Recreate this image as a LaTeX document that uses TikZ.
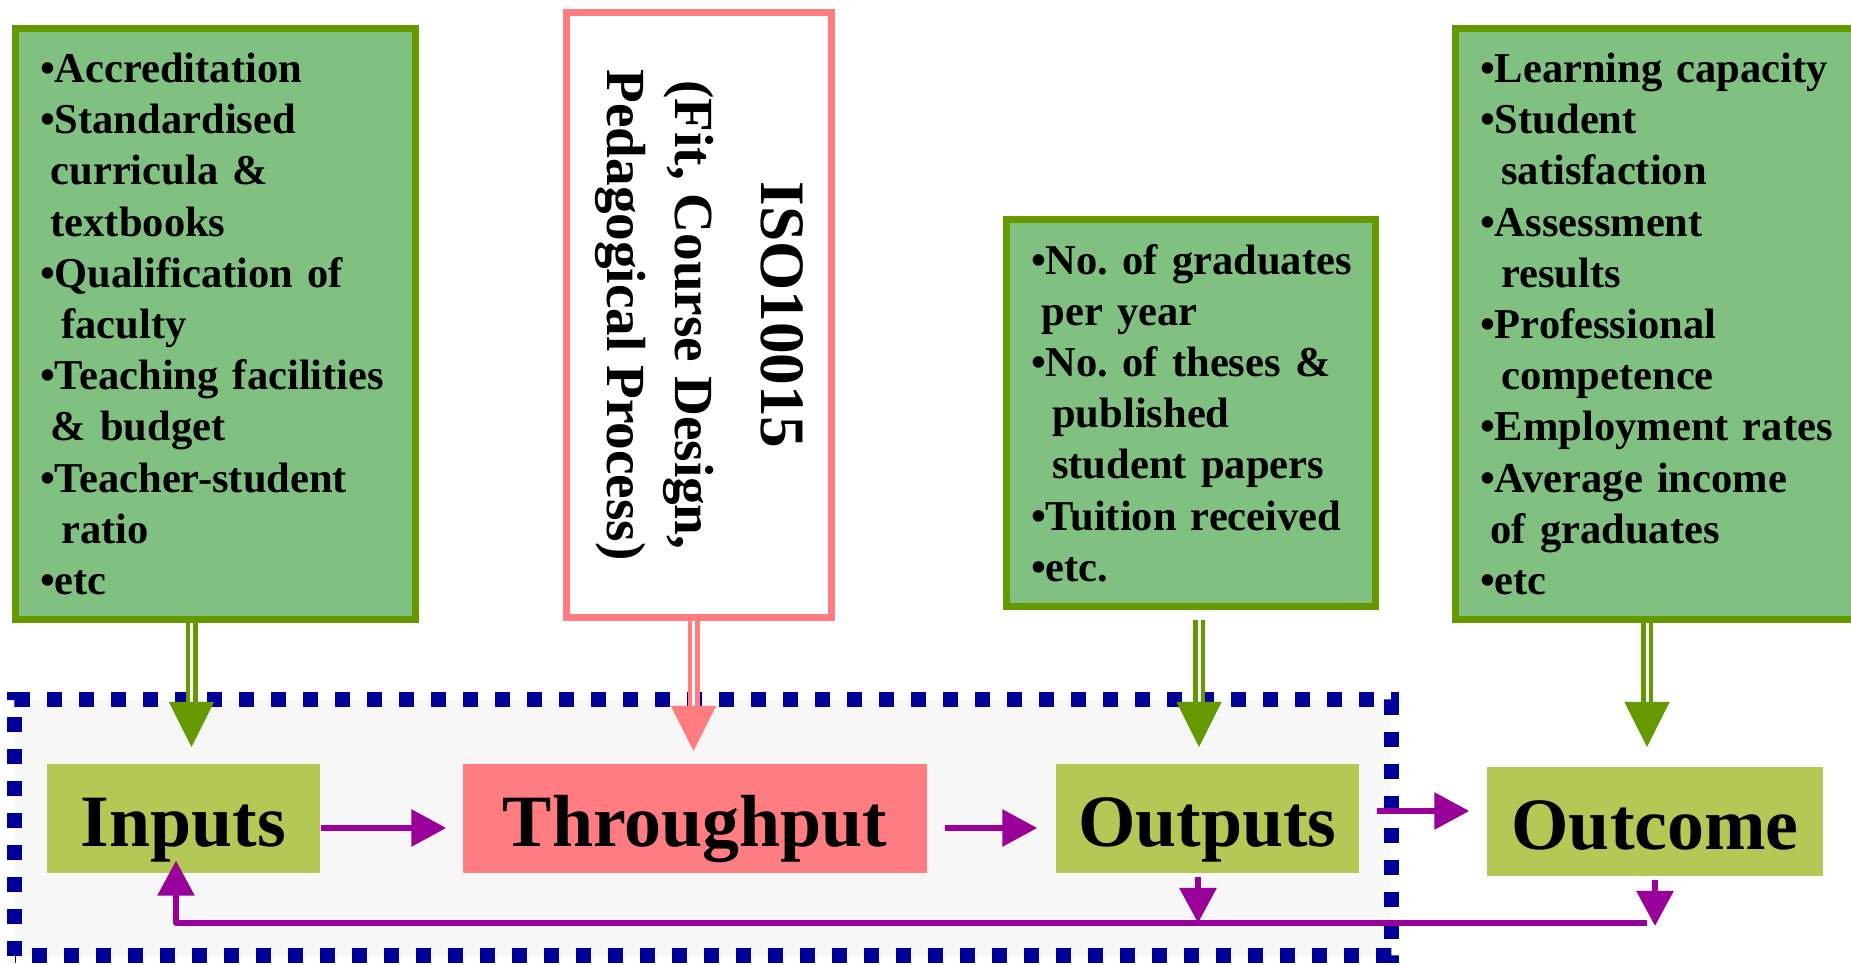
\documentclass[tikz,border=0pt]{standalone}
\usepackage{fontspec}
\setmainfont{Liberation Serif}
\usetikzlibrary{arrows.meta}

\definecolor{boxfill}{HTML}{80C080}
\definecolor{boxline}{HTML}{669900}
\definecolor{stagefill}{HTML}{B3C855}
\definecolor{isopink}{HTML}{FF7C80}
\definecolor{loopviolet}{HTML}{990099}
\definecolor{dotblue}{HTML}{000099}
\definecolor{zonegray}{HTML}{F7F7F7}

\frenchspacing
\hyphenpenalty=10000

\tikzset{
	listbox/.style={draw=boxline, fill=boxfill, line width=0.07cm, align=left, inner xsep=0.245cm, inner ysep=0pt, font=\fontsize{12.1pt}{14.57pt}\selectfont\bfseries},
	isobox/.style={draw=isopink, fill=white, line width=0.07cm, align=center, minimum width=6.05cm, minimum height=2.65cm, font=\fontsize{15.7pt}{19.4pt}\selectfont\bfseries},
	stagebox/.style={fill=stagefill, inner sep=0pt, text height=0.83cm, text depth=0.26cm, font=\fontsize{21pt}{25pt}\selectfont\bfseries},
	dotbox/.style={draw=dotblue, fill=zonegray, line width=0.15cm, dash pattern=on 0.15cm off 0.17cm},
	flowarrow/.style={draw=loopviolet, line width=0.06cm, -{Triangle[length=0.35cm,width=0.36cm]}},
	feedarrow/.style={flowarrow, line join=round},
	pipe/.style={line width=0.045cm, double=white, double distance=0.03cm},
	pipehead/.style={line width=0.01cm, -{Triangle[length=0.45cm,width=0.45cm]}},
}

\begin{document}
\begin{tikzpicture}
	\useasboundingbox (0,0) rectangle (18.51,9.65);
	\draw[dotbox] (0.15,0.09) rectangle (13.91,2.65);

	\node[listbox, text width=3.51cm, minimum width=4.00cm, minimum height=5.91cm] (InBox) at (2.155,6.41) {%
		•Accreditation\\
		•Standardised\\
		\hspace*{0.25em}curricula \&\\
		\hspace*{0.25em}textbooks\\
		•Qualification of\\
		\hspace*{0.5em}faculty\\
		•Teaching facilities\\
		\hspace*{0.25em}\& budget\\
		•Teacher-student\\
		\hspace*{0.5em}ratio\\
		•etc};
	\node[isobox, rotate=-90] (ISO) at (6.99,6.50) {%
		{\fontsize{18pt}{22pt}\selectfont ISO10015}\\[5pt]
		(Fit, Course Design,\\
		Pedagogical Process)};
	\node[listbox, text width=3.20cm, minimum width=3.69cm, minimum height=3.87cm] (OutBox) at (11.91,5.52) {%
		\mbox{•No.\ of graduates}\\
		\hspace*{0.25em}per year\\
		\mbox{•No.\ of theses \&}\\
		\hspace*{0.5em}published\\
		\hspace*{0.5em}student papers\\
		•Tuition received\\
		•etc.};
	\node[listbox, text width=3.60cm, minimum height=5.91cm] (OcBox) at (16.60,6.41) {%
		•Learning capacity\\
		•Student\\
		\hspace*{0.5em}satisfaction\\
		•Assessment\\
		\hspace*{0.5em}results\\
		•Professional\\
		\hspace*{0.5em}competence\\
		•Employment rates\\
		•Average income\\
		\hspace*{0.25em}of graduates\\
		•etc};

	\node[stagebox, minimum width=2.73cm] (Inputs) at (1.835,1.465) {Inputs};
	\node[stagebox, fill=isopink, minimum width=4.64cm] (Throughput) at (6.95,1.465) {Throughput};
	\node[stagebox, minimum width=3.03cm] (Outputs) at (12.075,1.465) {Outputs};
	\node[stagebox, minimum width=3.36cm] (Outcome) at (16.55,1.435) {Outcome};

	\coordinate (tipIn) at (1.915,2.18);
	\coordinate (tipIso) at (6.935,2.14);
	\coordinate (tipOut) at (11.99,2.18);
	\coordinate (tipOc) at (16.47,2.18);
	\draw[pipe, boxline] (InBox.south -| tipIn) -- ([yshift=0.44cm]tipIn);
	\draw[pipehead, boxline] ([yshift=0.45cm]tipIn) -- (tipIn);
	\draw[pipe, isopink] (ISO.east -| tipIso) -- ([yshift=0.42cm]tipIso);
	\draw[pipehead, isopink] ([yshift=0.43cm]tipIso) -- (tipIso);
	\draw[pipe, boxline, shorten <=0.1cm] (OutBox.south -| tipOut) -- ([yshift=0.44cm]tipOut);
	\draw[pipehead, boxline] ([yshift=0.45cm]tipOut) -- (tipOut);
	\draw[pipe, boxline] (OcBox.south -| tipOc) -- ([yshift=0.44cm]tipOc);
	\draw[pipehead, boxline] ([yshift=0.45cm]tipOc) -- (tipOc);

	\draw[flowarrow, shorten >=0.16cm] ([yshift=-0.095cm]Inputs.east) -- ([yshift=-0.095cm]Throughput.west);
	\draw[flowarrow, shorten <=0.17cm, shorten >=0.18cm] ([yshift=-0.095cm]Throughput.east) -- ([yshift=-0.095cm]Outputs.west);
	\draw[flowarrow, shorten <=0.17cm, shorten >=0.17cm] ([yshift=0.075cm]Outputs.east) -- ([yshift=0.105cm]Outcome.west);

	\coordinate (fbOut) at (11.98,0.42);
	\coordinate (fbEnd) at (16.47,0.42);
	\coordinate (fbDrop) at (16.55,0.39);
	\draw[feedarrow] (fbEnd) -| ([xshift=-0.075cm,yshift=0.13cm]Inputs.south);
	\draw[flowarrow, shorten <=0.03cm] (Outputs.south -| fbOut) -- (fbOut);
	\draw[flowarrow, shorten <=0.03cm] (Outcome.south) -- (fbDrop);
\end{tikzpicture}
\end{document}
